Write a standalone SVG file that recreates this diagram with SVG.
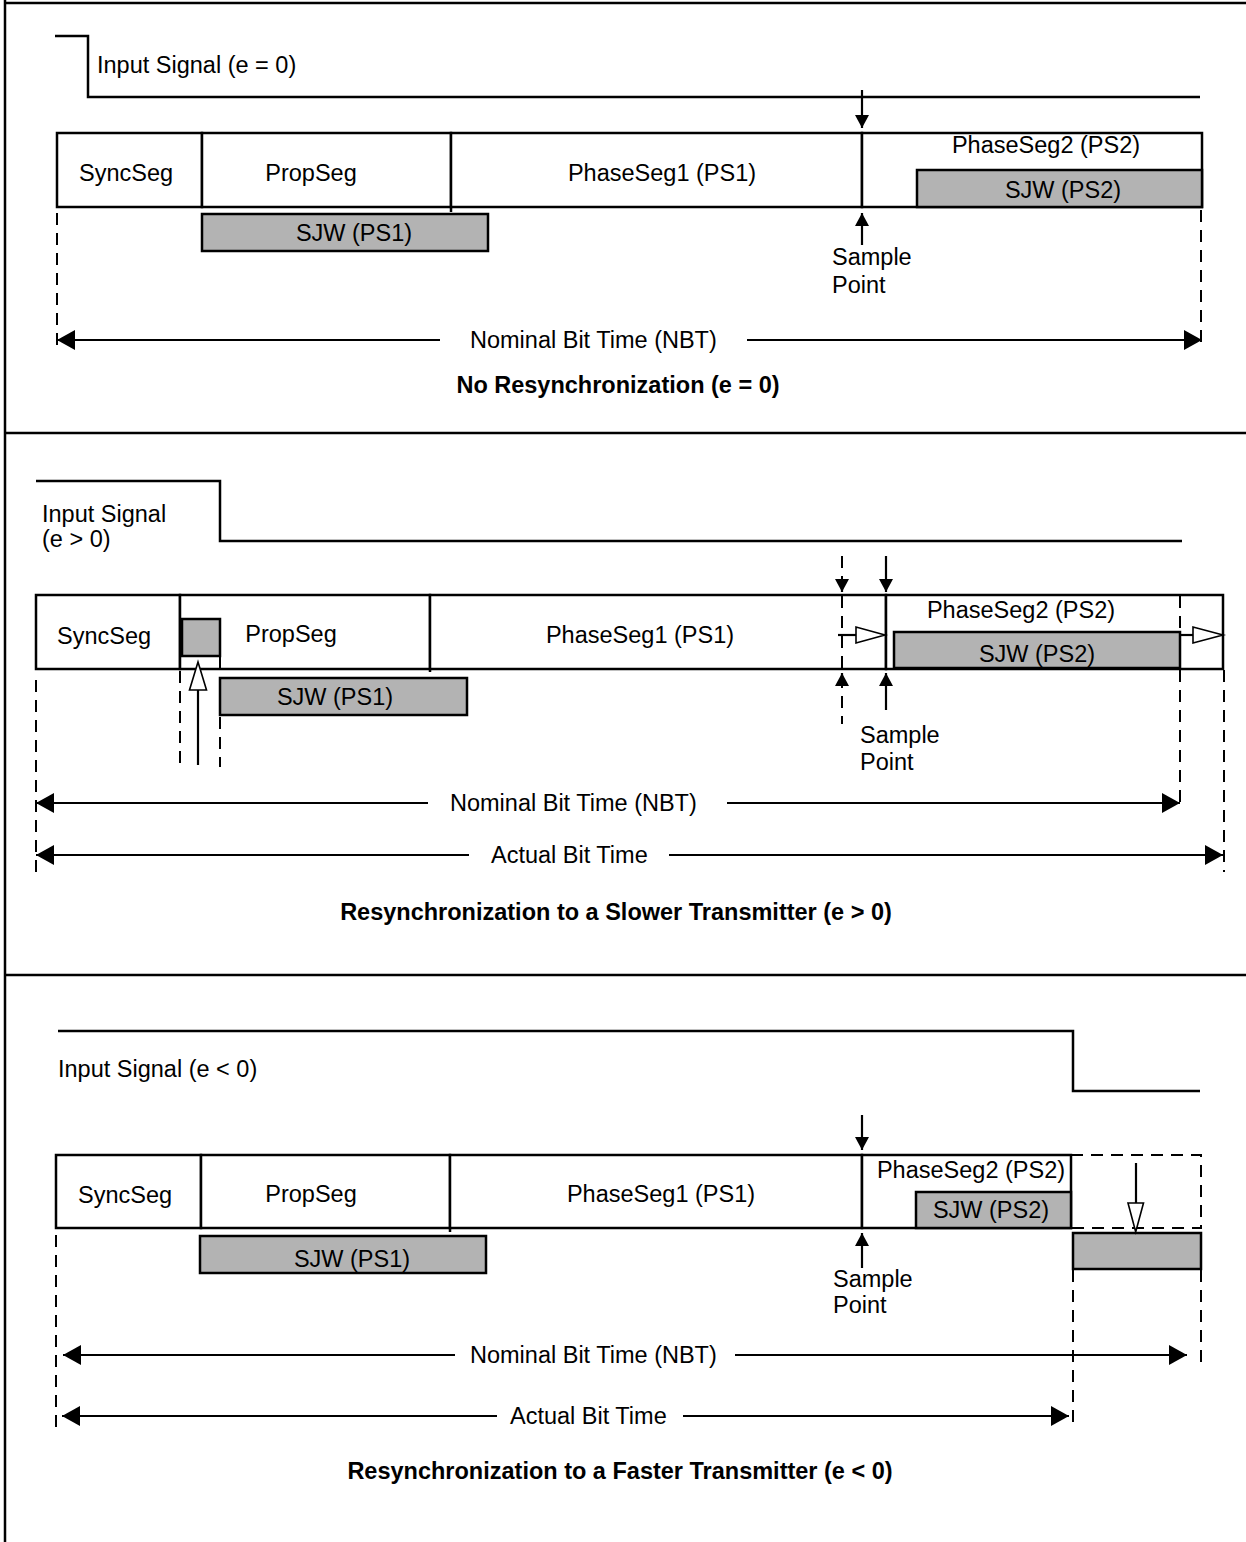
<svg xmlns="http://www.w3.org/2000/svg" width="1246" height="1542" viewBox="0 0 1246 1542">
<style>
.ln{stroke:#000;stroke-width:2.5;fill:none}
.box{fill:#fff;stroke:#000;stroke-width:2.5}
.sjw{fill:#b3b3b3;stroke:#000;stroke-width:2.5}
.dash{stroke:#000;stroke-width:2;stroke-dasharray:12 8;fill:none}
.arr{stroke:#000;stroke-width:2.2;fill:none}
.big{marker-end:url(#bigHead)}
.bigs{marker-start:url(#bigHead)}
.sm{marker-end:url(#smHead)}
.hollow{fill:#fff;stroke:#000;stroke-width:1.6}
.t{font-family:"Liberation Sans",Arial,sans-serif;font-size:23.5px;fill:#000}
.m{text-anchor:middle}
.b{font-weight:bold}
</style>
<defs>
<marker id="bigHead" viewBox="0 0 18 20" refX="18" refY="10" markerWidth="18" markerHeight="20" markerUnits="userSpaceOnUse" orient="auto-start-reverse">
<path d="M0,0 L18,10 L0,20 Z" fill="#000"/>
</marker>
<marker id="smHead" viewBox="0 0 13 14" refX="13" refY="7" markerWidth="13" markerHeight="14" markerUnits="userSpaceOnUse" orient="auto">
<path d="M0,0 L13,7 L0,14 Z" fill="#000"/>
</marker>
</defs>
<rect x="0" y="0" width="1246" height="1542" fill="#fff"/>
<g id="frame">
<line class="ln" x1="5" y1="0" x2="5" y2="1542"/>
<line class="ln" x1="5" y1="3" x2="1246" y2="3"/>
<line class="ln" x1="5" y1="433" x2="1246" y2="433"/>
<line class="ln" x1="5" y1="975" x2="1246" y2="975"/>
</g>

<!-- ===== Panel 1 ===== -->
<g id="p1-signal">
<polyline class="ln" points="55,36 88,36 88,97 1200,97"/>
<text class="t" x="97" y="73">Input Signal (e = 0)</text>
</g>
<g id="p1-syncseg">
<rect class="box" x="57" y="133" width="145" height="74"/>
<text class="t m" x="126" y="181">SyncSeg</text>
</g>
<g id="p1-propseg">
<rect class="box" x="202" y="133" width="249" height="74"/>
<text class="t m" x="311" y="181">PropSeg</text>
</g>
<g id="p1-ps1">
<rect class="box" x="451" y="133" width="411" height="74"/>
<line class="ln" x1="451" y1="207" x2="451" y2="212"/>
<text class="t m" x="662" y="181">PhaseSeg1 (PS1)</text>
</g>
<g id="p1-ps2">
<rect class="box" x="862" y="133" width="340" height="74"/>
<text class="t m" x="1046" y="153">PhaseSeg2 (PS2)</text>
</g>
<g id="p1-sjw-ps2">
<rect class="sjw" x="917" y="170" width="285" height="37"/>
<text class="t m" x="1063" y="198">SJW (PS2)</text>
</g>
<g id="p1-sjw-ps1">
<rect class="sjw" x="202" y="214" width="286" height="37"/>
<text class="t m" x="354" y="241">SJW (PS1)</text>
</g>
<g id="p1-sample">
<text class="t" x="832" y="265">Sample</text>
<text class="t" x="832" y="293">Point</text>
</g>
<g id="p1-nbt">
<text class="t" x="470" y="348">Nominal Bit Time (NBT)</text>
</g>
<g id="p1-title">
<text class="t b m" x="618" y="393">No Resynchronization (e = 0)</text>
</g>
<g id="p1-connectors">
<line class="arr sm" x1="862" y1="90" x2="862" y2="128"/>
<line class="arr sm" x1="862" y1="245" x2="862" y2="213"/>
<line class="dash" x1="57" y1="213" x2="57" y2="348"/>
<line class="dash" x1="1201" y1="210" x2="1201" y2="344"/>
<line class="arr bigs" x1="57" y1="340" x2="440" y2="340"/>
<line class="arr big" x1="747" y1="340" x2="1202" y2="340"/>
</g>

<!-- ===== Panel 2 ===== -->
<g id="p2-signal">
<polyline class="ln" points="36,481 220,481 220,541 1182,541"/>
<text class="t" x="42" y="522">Input Signal</text>
<text class="t" x="42" y="547">(e &gt; 0)</text>
</g>
<g id="p2-syncseg">
<rect class="box" x="36" y="595" width="144" height="74"/>
<text class="t m" x="104" y="644">SyncSeg</text>
</g>
<g id="p2-propseg">
<rect class="box" x="180" y="595" width="250" height="74"/>
<rect class="sjw" x="182" y="619" width="38" height="37"/>
<text class="t m" x="291" y="642">PropSeg</text>
</g>
<g id="p2-ps1">
<rect class="box" x="430" y="595" width="456" height="74"/>
<line class="ln" x1="430" y1="669" x2="430" y2="672"/>
<text class="t m" x="640" y="643">PhaseSeg1 (PS1)</text>
</g>
<g id="p2-ps2">
<rect class="box" x="886" y="595" width="337" height="74"/>
<text class="t m" x="1021" y="618">PhaseSeg2 (PS2)</text>
</g>
<g id="p2-sjw-ps2">
<rect class="sjw" x="894" y="632" width="286" height="36"/>
<text class="t m" x="1037" y="662">SJW (PS2)</text>
</g>
<g id="p2-sjw-ps1">
<rect class="sjw" x="220" y="678" width="247" height="37"/>
<text class="t m" x="335" y="705">SJW (PS1)</text>
</g>
<g id="p2-sample">
<text class="t" x="860" y="743">Sample</text>
<text class="t" x="860" y="770">Point</text>
</g>
<g id="p2-nbt">
<text class="t" x="450" y="811">Nominal Bit Time (NBT)</text>
</g>
<g id="p2-abt">
<text class="t" x="491" y="863">Actual Bit Time</text>
</g>
<g id="p2-title">
<text class="t b m" x="616" y="920">Resynchronization to a Slower Transmitter (e &gt; 0)</text>
</g>
<g id="p2-connectors">
<line class="dash" x1="36" y1="680" x2="36" y2="875"/>
<line class="dash" x1="180" y1="671" x2="180" y2="767"/>
<line class="dash" x1="220" y1="657" x2="220" y2="767"/>
<line class="arr" x1="198" y1="765" x2="198" y2="690"/>
<polygon class="hollow" points="198,662 189.5,690 206.5,690"/>
<line class="dash" x1="842" y1="556" x2="842" y2="724"/>
<line class="arr sm" x1="842" y1="580" x2="842" y2="592"/>
<line class="arr sm" x1="842" y1="685" x2="842" y2="673"/>
<line class="arr sm" x1="886" y1="556" x2="886" y2="592"/>
<line class="arr sm" x1="886" y1="710" x2="886" y2="673"/>
<line class="arr" x1="838" y1="635" x2="856" y2="635"/>
<polygon class="hollow" points="856,627 856,643 885,635"/>
<line class="arr" x1="1180" y1="635" x2="1193" y2="635"/>
<polygon class="hollow" points="1193,627 1193,643 1223,635"/>
<line class="dash" x1="1180" y1="596" x2="1180" y2="632"/>
<line class="dash" x1="1180" y1="670" x2="1180" y2="806"/>
<line class="dash" x1="1224" y1="670" x2="1224" y2="872"/>
<line class="arr bigs" x1="36" y1="803" x2="428" y2="803"/>
<line class="arr big" x1="727" y1="803" x2="1180" y2="803"/>
<line class="arr bigs" x1="36" y1="855" x2="469" y2="855"/>
<line class="arr big" x1="669" y1="855" x2="1223" y2="855"/>
</g>

<!-- ===== Panel 3 ===== -->
<g id="p3-signal">
<polyline class="ln" points="58,1031 1073,1031 1073,1091 1200,1091"/>
<text class="t" x="58" y="1077">Input Signal (e &lt; 0)</text>
</g>
<g id="p3-syncseg">
<rect class="box" x="56" y="1155" width="145" height="73"/>
<text class="t m" x="125" y="1203">SyncSeg</text>
</g>
<g id="p3-propseg">
<rect class="box" x="201" y="1155" width="249" height="73"/>
<text class="t m" x="311" y="1202">PropSeg</text>
</g>
<g id="p3-ps1">
<rect class="box" x="450" y="1155" width="412" height="73"/>
<line class="ln" x1="450" y1="1228" x2="450" y2="1232"/>
<text class="t m" x="661" y="1202">PhaseSeg1 (PS1)</text>
</g>
<g id="p3-ps2">
<rect class="box" x="862" y="1155" width="209" height="73"/>
<text class="t m" x="971" y="1178">PhaseSeg2 (PS2)</text>
</g>
<g id="p3-sjw-ps2">
<rect class="sjw" x="916" y="1192" width="155" height="36"/>
<text class="t m" x="991" y="1218">SJW (PS2)</text>
</g>
<g id="p3-sjw-ps1">
<rect class="sjw" x="200" y="1236" width="286" height="37"/>
<text class="t m" x="352" y="1267">SJW (PS1)</text>
</g>
<g id="p3-ext">
<polyline class="dash" points="1071,1155 1201,1155 1201,1228 1071,1228"/>
<rect class="sjw" x="1073" y="1233" width="128" height="36"/>
</g>
<g id="p3-sample">
<text class="t" x="833" y="1287">Sample</text>
<text class="t" x="833" y="1313">Point</text>
</g>
<g id="p3-nbt">
<text class="t" x="470" y="1363">Nominal Bit Time (NBT)</text>
</g>
<g id="p3-abt">
<text class="t" x="510" y="1424">Actual Bit Time</text>
</g>
<g id="p3-title">
<text class="t b m" x="620" y="1479">Resynchronization to a Faster Transmitter (e &lt; 0)</text>
</g>
<g id="p3-connectors">
<line class="arr sm" x1="862" y1="1115" x2="862" y2="1150"/>
<line class="arr sm" x1="862" y1="1268" x2="862" y2="1233"/>
<line class="arr" x1="1136" y1="1163" x2="1136" y2="1203"/>
<polygon class="hollow" points="1128,1203 1143.5,1203 1135.7,1232"/>
<line class="dash" x1="56" y1="1235" x2="56" y2="1427"/>
<line class="dash" x1="1073" y1="1270" x2="1073" y2="1427"/>
<line class="dash" x1="1201" y1="1270" x2="1201" y2="1362"/>
<line class="arr bigs" x1="63" y1="1355" x2="455" y2="1355"/>
<line class="arr big" x1="735" y1="1355" x2="1187" y2="1355"/>
<line class="arr bigs" x1="62" y1="1416" x2="497" y2="1416"/>
<line class="arr big" x1="683" y1="1416" x2="1069" y2="1416"/>
</g>
</svg>
